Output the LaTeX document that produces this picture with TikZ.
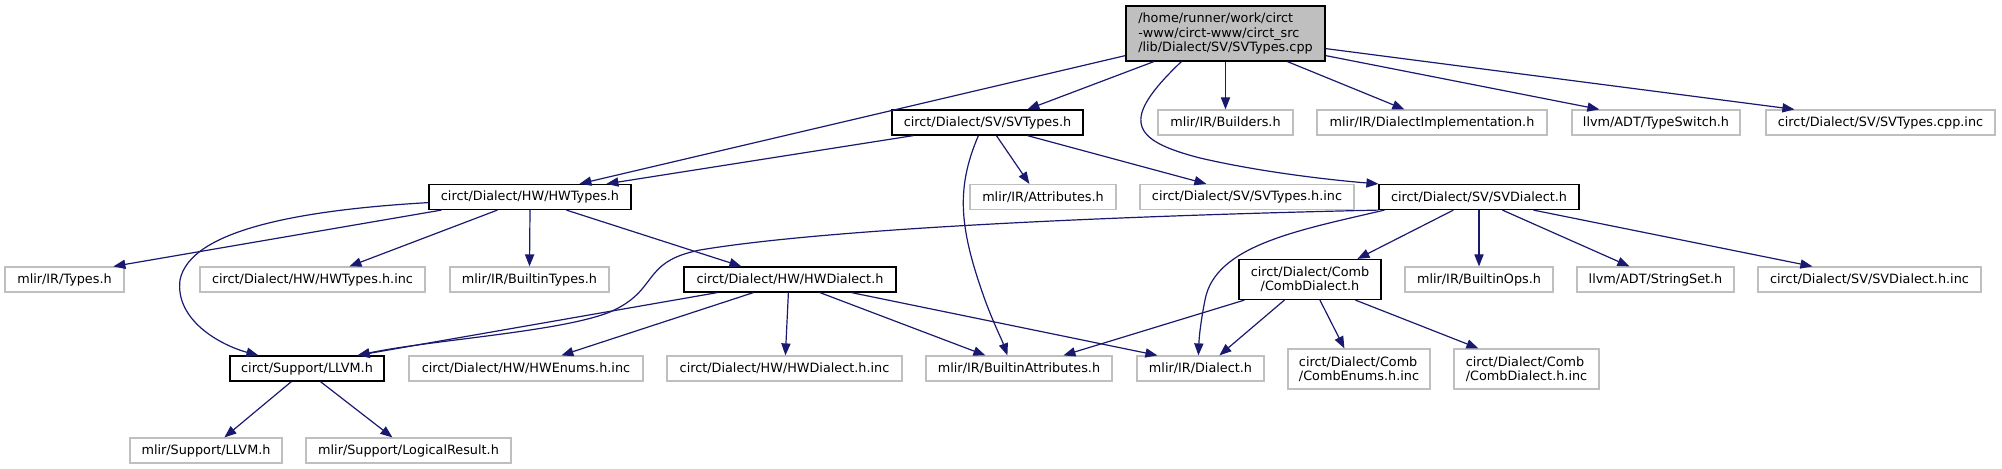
\documentclass[tikz,border=0pt]{standalone}
\usepackage{fontspec}
\newfontfamily\gfont{DejaVu Sans}
\usetikzlibrary{arrows.meta,calc}
\definecolor{edgeblue}{HTML}{191970}
\definecolor{greyb}{HTML}{BFBFBF}
\begin{document}
\begin{tikzpicture}[x=0.5pt,y=-0.5pt,
  base/.style={line width=0.6pt, fill=white, inner sep=0pt, minimum height=12.5pt,
    font=\gfont\fontsize{6.4}{7.1}\selectfont, text=black},
  box/.style={base, draw=black},
  gbox/.style={base, draw=greyb},
  bw/.style={minimum width=#1*0.5pt},
  bh/.style={minimum height=#1*0.5pt},
  edge/.style={draw=edgeblue, line width=0.6pt, -{Triangle[length=6pt,width=4.6pt]}}]
\fill[white] (0,0) rectangle (2002,469);
\useasboundingbox (0,0) rectangle (2002,469);
% row 1
\node[box, fill=greyb, bw=199, bh=55, align=left] (main) at (1225.5,33.5)
  {/home/runner/work/circt\\-www/circt-www/circt\_src\\/lib/Dialect/SV/SVTypes.cpp};
% row 2
\node[box, bw=191] (svt) at (987.5,122.5) {circt/Dialect/SV/SVTypes.h};
\node[gbox, bw=135] (bld) at (1225.5,122.5) {mlir/IR/Builders.h};
\node[gbox, bw=230] (dimp) at (1432,122.5) {mlir/IR/DialectImplementation.h};
\node[gbox, bw=168] (tsw) at (1656,122.5) {llvm/ADT/TypeSwitch.h};
\node[gbox, bw=229] (cppinc) at (1880.5,122.5) {circt/Dialect/SV/SVTypes.cpp.inc};
% row 3
\node[box, bw=202] (hwt) at (530,197) {circt/Dialect/HW/HWTypes.h};
\node[gbox, bw=146] (attr) at (1043,197) {mlir/IR/Attributes.h};
\node[gbox, bw=214] (svtinc) at (1247,197) {circt/Dialect/SV/SVTypes.h.inc};
\node[box, bw=200] (svd) at (1479,197) {circt/Dialect/SV/SVDialect.h};
% row 4
\node[gbox, bw=119] (types) at (64.5,279.5) {mlir/IR/Types.h};
\node[gbox, bw=225] (hwtinc) at (312.5,279.5) {circt/Dialect/HW/HWTypes.h.inc};
\node[gbox, bw=159] (btypes) at (529.5,279.5) {mlir/IR/BuiltinTypes.h};
\node[box, bw=212] (hwd) at (790,279.5) {circt/Dialect/HW/HWDialect.h};
\node[box, bw=142, bh=40, align=center] (comb) at (1310,279.5) {circt/Dialect/Comb\\/CombDialect.h};
\node[gbox, bw=148] (bops) at (1479,279.5) {mlir/IR/BuiltinOps.h};
\node[gbox, bw=157] (sset) at (1655.5,279.5) {llvm/ADT/StringSet.h};
\node[gbox, bw=223] (svdinc) at (1869.5,279.5) {circt/Dialect/SV/SVDialect.h.inc};
% row 5
\node[box, bw=154] (llvm) at (307,368.5) {circt/Support/LLVM.h};
\node[gbox, bw=234] (hwenum) at (526,368.5) {circt/Dialect/HW/HWEnums.h.inc};
\node[gbox, bw=235] (hwdinc) at (784.5,368.5) {circt/Dialect/HW/HWDialect.h.inc};
\node[gbox, bw=186] (battr) at (1019,368.5) {mlir/IR/BuiltinAttributes.h};
\node[gbox, bw=127] (dial) at (1200.5,368.5) {mlir/IR/Dialect.h};
\node[gbox, bw=142, bh=40, align=left] (cenum) at (1359,369) {circt/Dialect/Comb\\/CombEnums.h.inc};
\node[gbox, bw=145, bh=40, align=left] (cdinc) at (1526.5,369) {circt/Dialect/Comb\\/CombDialect.h.inc};
% row 6
\node[gbox, bw=152] (mllvm) at (206,450.5) {mlir/Support/LLVM.h};
\node[gbox, bw=205] (lres) at (408.5,450.5) {mlir/Support/LogicalResult.h};

% edges from main
\draw[edge] ($(main.south west)+(0,-6)$) -- ($(hwt.north west)+(151,0)$);
\draw[edge] ($(main.south west)+(28.5,0)$) -- ($(svt.north west)+(136,0)$);
\draw[edge] (main.south) -- (bld.north);
\draw[edge] ($(main.south west)+(162,0)$) -- ($(dimp.north west)+(88,0)$);
\draw[edge] ($(main.south east)+(0,-6)$) -- ($(tsw.north west)+(28,0)$);
\draw[edge] ($(main.south east)+(0,-13)$) -- ($(cppinc.north west)+(29,0)$);
\draw[edge] ($(main.south west)+(56,0)$) .. controls (1120,120) and (1130,140) .. (1200,158)
  .. controls (1260,172) and (1330,180) .. (svd.north west);
% edges from SVTypes.h
\draw[edge] ($(svt.south west)+(22,0)$) -- ($(hwt.north west)+(178,0)$);
\draw[edge] ($(svt.south west)+(87,0)$) .. controls (955,190) and (960,230) .. (985,300)
  .. controls (993,322) and (1002,340) .. ($(battr.north west)+(82,0)$);
\draw[edge] ($(svt.south west)+(105,0)$) -- ($(attr.north west)+(60,0)$);
\draw[edge] ($(svt.south west)+(136,0)$) -- ($(svtinc.north west)+(67,0)$);
% edges from HWTypes.h
\draw[edge] ($(hwt.south west)+(0,-7.5)$) .. controls (300,210) and (190,230) .. (180,280)
  .. controls (175,320) and (220,345) .. ($(llvm.north west)+(29,0)$);
\draw[edge] ($(hwt.south west)+(13,0)$) -- ($(types.north west)+(109,0)$);
\draw[edge] ($(hwt.south west)+(69,0)$) -- ($(hwtinc.north west)+(150,0)$);
\draw[edge] (hwt.south) -- (btypes.north);
\draw[edge] ($(hwt.south west)+(138,0)$) -- ($(hwd.north west)+(58,0)$);
% edges from SVDialect.h
\draw[edge] (svd.south west) .. controls (1200,214) and (850,225) .. (700,250)
  .. controls (640,262) and (660,290) .. (610,312)
  .. controls (560,332) and (430,340) .. ($(llvm.north east)+(-27,0)$);
\draw[edge] ($(svd.south west)+(6,0)$) .. controls (1300,230) and (1215,245) .. (1205,300)
  .. controls (1200,325) and (1199,340) .. ($(dial.north west)+(62,0)$);
\draw[edge] ($(svd.south west)+(75,0)$) -- ($(comb.north west)+(119,0)$);
\draw[edge] (svd.south) -- (bops.north);
\draw[edge] ($(svd.south west)+(124,0)$) -- ($(sset.north west)+(53,0)$);
\draw[edge] ($(svd.south west)+(155,0)$) -- ($(svdinc.north west)+(55,0)$);
% edges from HWDialect.h
\draw[edge] ($(hwd.south west)+(34,0)$) -- ($(llvm.north east)+(-27,0)$);
\draw[edge] ($(hwd.south west)+(70,0)$) -- ($(hwenum.north west)+(153,0)$);
\draw[edge] ($(hwd.south west)+(105,0)$) -- ($(hwdinc.north west)+(119,0)$);
\draw[edge] ($(hwd.south west)+(136.5,0)$) -- ($(battr.north west)+(60,0)$);
\draw[edge] ($(hwd.south west)+(168,0)$) -- ($(dial.north west)+(21,0)$);
% edges from CombDialect.h
\draw[edge] ($(comb.south west)+(6,0)$) -- ($(battr.north west)+(138,0)$);
\draw[edge] ($(comb.south west)+(46,0)$) -- ($(dial.north west)+(83,0)$);
\draw[edge] ($(comb.south west)+(81.5,0)$) -- ($(cenum.north west)+(57,0)$);
\draw[edge] ($(comb.south west)+(117,0)$) -- ($(cdinc.north west)+(25,0)$);
% edges from LLVM.h
\draw[edge] ($(llvm.south west)+(62,0)$) -- ($(mllvm.north west)+(95,0)$);
\draw[edge] ($(llvm.south west)+(91,0)$) -- ($(lres.north west)+(87,0)$);
\end{tikzpicture}
\end{document}
